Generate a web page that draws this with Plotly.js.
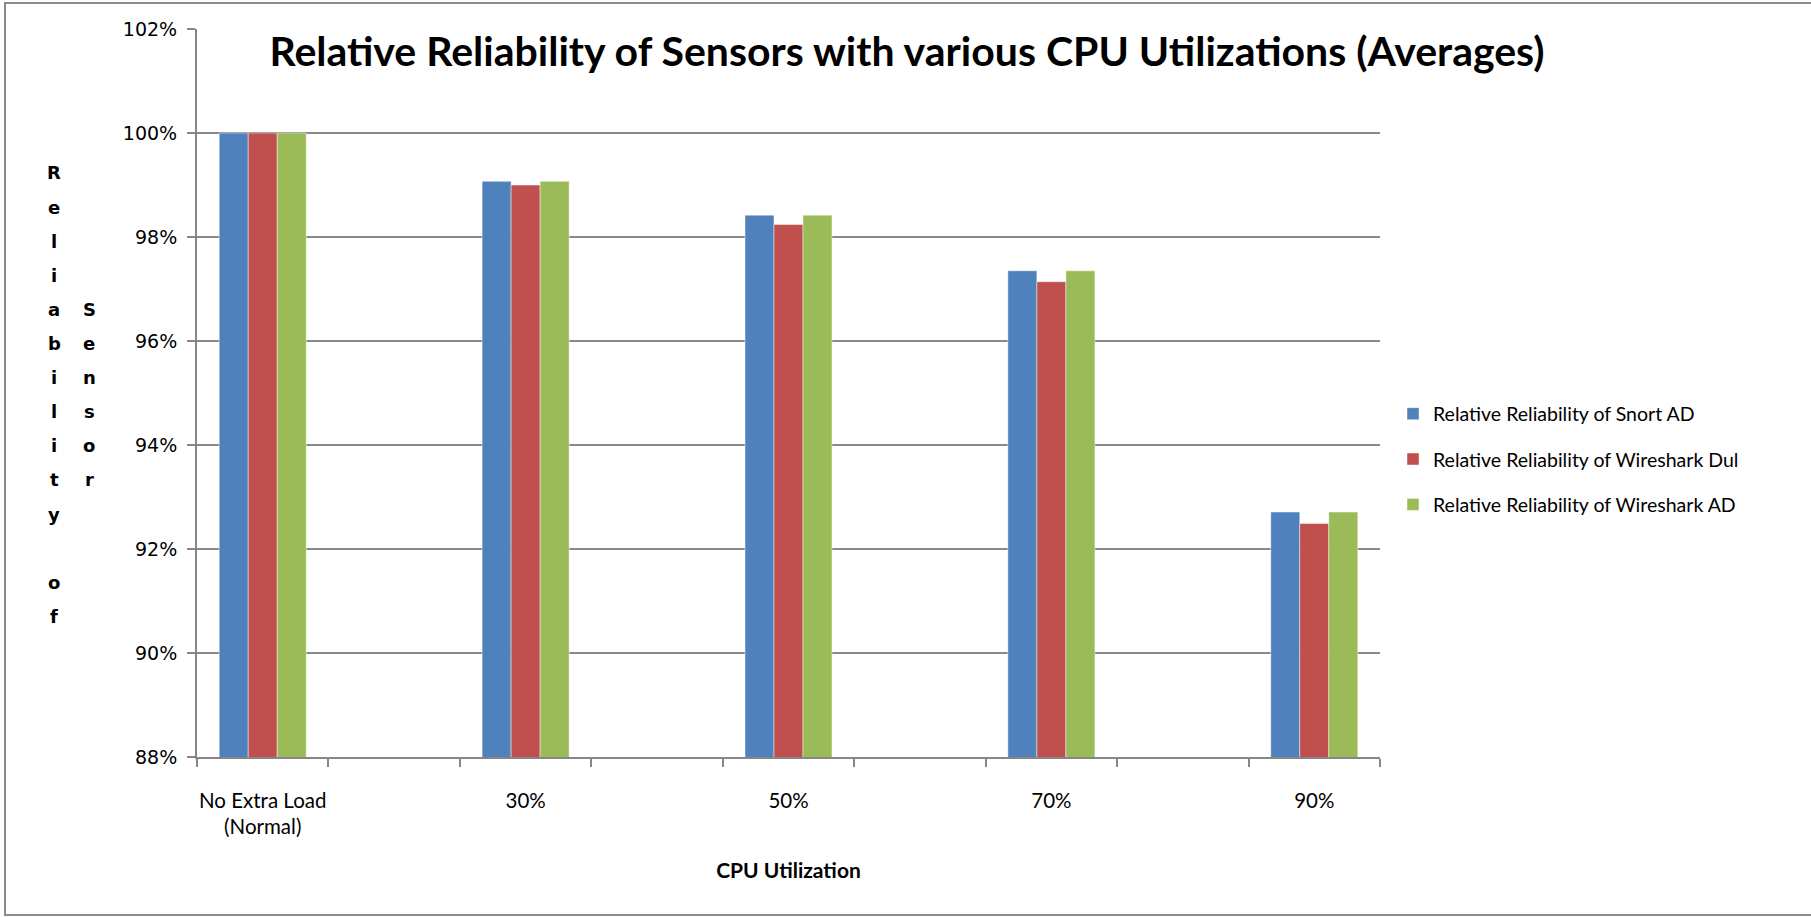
<!DOCTYPE html>
<html>
<head>
<meta charset="utf-8">
<script src="https://cdn.plot.ly/plotly-3.0.1.min.js"></script>
<style>
  html, body { margin: 0; padding: 0; background: #fff; }
  #wrap { position: relative; width: 1811px; height: 917px; overflow: hidden; }
  #chart { position: absolute; left: 0; top: 0; width: 1811px; height: 917px; }
  #frame { position: absolute; left: 4px; top: 2px; width: 1830px; height: 910px;
           border: 2px solid #8c8c8c; pointer-events: none; }
</style>
</head>
<body>
<div id="wrap">
  <div id="chart"></div>
  <div id="frame"></div>
</div>
<script>
// ---- data ----
const categories = ['No Extra Load<br>(Normal)', '30%', '50%', '70%', '90%'];
const seriesNames = [
  'Relative Reliability of Snort AD',
  'Relative Reliability of Wireshark Dul',
  'Relative Reliability of Wireshark AD'
];
const snortAD      = [1.0000, 0.9907, 0.9842, 0.9735, 0.9271];
const wiresharkDul = [1.0000, 0.9900, 0.9824, 0.9714, 0.9249];
const wiresharkAD  = [1.0000, 0.9907, 0.9842, 0.9735, 0.9271];
const colors = ['#4F81BD', '#C0504D', '#9BBB59'];
const yTitleCol1 = 'Reliability of';
const yTitleCol2 = 'Sensor';
const xTitle = 'CPU Utilization';
const chartTitle = 'Relative Reliability of Sensors with various CPU Utilizations (Averages)';

// Axis slots: each category is followed by an empty slot (as in the source chart)
const slots = [];
categories.forEach((c, i) => {
  slots.push(c);
  if (i < categories.length - 1) slots.push(' '.repeat(i + 1));
});
function spread(vals) {
  const out = [];
  vals.forEach((v, i) => { out.push(v); if (i < vals.length - 1) out.push(null); });
  return out;
}

const allSeries = [snortAD, wiresharkDul, wiresharkAD];
const traces = allSeries.map((vals, k) => ({
  type: 'bar',
  name: seriesNames[k],
  x: slots,
  y: spread(vals),
  legendgroup: 'g' + k,
  marker: { color: colors[k], line: { color: 'rgba(255,255,255,0.45)', width: 1 } },
  hovertemplate: '%{x}: %{y:.2%}<extra>' + seriesNames[k] + '</extra>'
}));

// stacked y-axis title letters
const annotations = [];
const rowStart = 173, rowStep = 34.1;   // pixel layout of the stacked title
const plotTop = 29, plotBottom = 757;
function pxToPaperY(py) { return (plotBottom - py) / (plotBottom - plotTop); }
function pxToPaperX(px) { return (px - 197) / (1380 - 197); }
const yTitleFont = { family: 'DejaVu Sans, Verdana, sans-serif', size: 18, color: '#000', weight: 'bold' };
[...yTitleCol1].forEach((ch, i) => {
  if (ch === ' ') return;
  annotations.push({
    text: ch, xref: 'paper', yref: 'paper', showarrow: false,
    x: pxToPaperX(54), y: pxToPaperY(rowStart + i * rowStep),
    xanchor: 'center', yanchor: 'middle', font: yTitleFont
  });
});
[...yTitleCol2].forEach((ch, i) => {
  annotations.push({
    text: ch, xref: 'paper', yref: 'paper', showarrow: false,
    x: pxToPaperX(89), y: pxToPaperY(rowStart + (i + 4) * rowStep),
    xanchor: 'center', yanchor: 'middle', font: yTitleFont
  });
});

const layout = {
  width: 1811, height: 917,
  margin: { l: 197, r: 431, t: 29, b: 160, pad: 0 },
  paper_bgcolor: '#fff', plot_bgcolor: '#fff',
  barmode: 'group', bargap: 0.338, bargroupgap: 0,
  showlegend: true,
  title: {
    text: '<b>' + chartTitle + '</b>',
    x: 0.5008, xref: 'container', xanchor: 'center',
    y: 1 - 52 / 917, yref: 'container', yanchor: 'middle',
    font: { family: 'Lato, Calibri, sans-serif', size: 41, color: '#000' }
  },
  xaxis: {
    type: 'category', categoryorder: 'array', categoryarray: slots,
    tickson: 'boundaries', ticks: 'outside', ticklen: 8, tickwidth: 1.5, tickcolor: '#868686',
    showline: true, linecolor: '#868686', linewidth: 2,
    showgrid: false, zeroline: false,
    tickangle: 0,
    ticklabelstandoff: 24,
    tickfont: { family: 'Lato, Calibri, sans-serif', size: 20.5, color: '#000' },
    title: { text: '<b>' + xTitle + '</b>', standoff: 26,
             font: { family: 'Lato, Calibri, sans-serif', size: 21, color: '#000' } },
    fixedrange: true
  },
  yaxis: {
    range: [0.88, 1.02], dtick: 0.02, tick0: 0.88, tickformat: '.0%',
    ticks: 'outside', ticklen: 8, tickwidth: 1.5, tickcolor: '#868686',
    showline: true, linecolor: '#868686', linewidth: 2,
    showgrid: true, gridcolor: '#8a8a8a', gridwidth: 1.5, zeroline: false,
    ticklabelstandoff: 6,
    tickfont: { family: 'DejaVu Sans, Verdana, sans-serif', size: 19, color: '#000' },
    fixedrange: true
  },
  legend: {
    x: 1.011, xanchor: 'left', y: pxToPaperY(459.5), yanchor: 'middle',
    traceorder: 'grouped', tracegroupgap: 17, itemwidth: 30,
    font: { family: 'Lato, Calibri, sans-serif', size: 19.5, color: '#000' },
    bgcolor: 'rgba(0,0,0,0)'
  },
  annotations: annotations
};

Plotly.newPlot('chart', traces, layout, { displayModeBar: false, staticPlot: false });
</script>
</body>
</html>
